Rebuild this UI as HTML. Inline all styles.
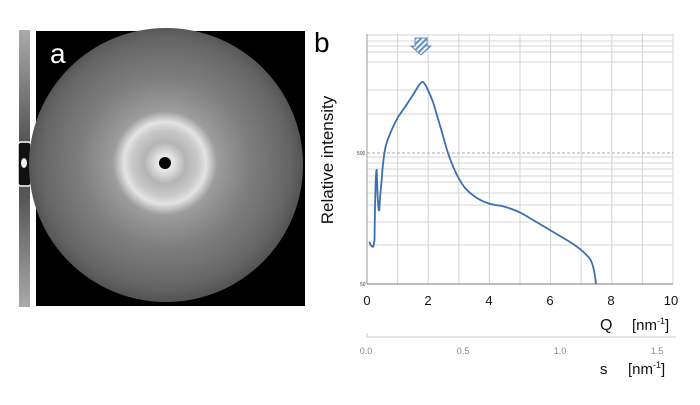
<!DOCTYPE html>
<html><head><meta charset="utf-8"><style>
body{margin:0;background:#fff;width:700px;height:400px;overflow:hidden;font-family:"Liberation Sans",sans-serif}
</style></head><body>
<svg width="700" height="400" viewBox="0 0 700 400" xmlns="http://www.w3.org/2000/svg" font-family="Liberation Sans, sans-serif">
<defs>
<radialGradient id="g" cx="165" cy="163" r="137" gradientUnits="userSpaceOnUse">
<stop offset="0" stop-color="#fff"/>
<stop offset="0.07" stop-color="#e0e0e0"/>
<stop offset="0.15" stop-color="#b4b4b4"/>
<stop offset="0.24" stop-color="#c8c8c8"/>
<stop offset="0.3" stop-color="#e4e4e4"/>
<stop offset="0.38" stop-color="#9c9c9c"/>
<stop offset="0.6" stop-color="#808080"/>
<stop offset="0.9" stop-color="#666"/>
<stop offset="1" stop-color="#555"/>
</radialGradient>
<linearGradient id="st" x1="0" y1="0" x2="0" y2="1">
<stop offset="0" stop-color="#aaa"/><stop offset="0.4" stop-color="#555"/><stop offset="0.6" stop-color="#555"/><stop offset="1" stop-color="#aaa"/>
</linearGradient>
<pattern id="h" width="4" height="4" patternUnits="userSpaceOnUse" patternTransform="rotate(45)"><rect width="2" height="4" fill="#5b8fc9"/></pattern>
</defs>
<rect x="19" y="30" width="11" height="277" fill="url(#st)"/>
<rect x="18" y="142" width="13" height="44" rx="3" fill="#111" stroke="#fff" stroke-width="1.5"/>
<ellipse cx="24" cy="163" rx="3" ry="5" fill="#eee"/>
<rect x="36" y="31" width="269" height="275" fill="#000"/>
<circle cx="166" cy="165" r="137" fill="url(#g)"/>
<circle cx="165" cy="163" r="6" fill="#000"/>
<text x="50" y="63" font-size="28" fill="#fff">a</text>
<text x="314" y="52" font-size="28" fill="#000">b</text>
<g stroke="#d4d4d4" stroke-width="1">
<line x1="367" y1="35" x2="673" y2="35"/><line x1="367" y1="41" x2="673" y2="41"/><line x1="367" y1="46" x2="673" y2="46"/><line x1="367" y1="52" x2="673" y2="52"/><line x1="367" y1="62" x2="673" y2="62"/><line x1="367" y1="90" x2="673" y2="90"/><line x1="367" y1="114" x2="673" y2="114"/>
<line x1="367" y1="157" x2="673" y2="157"/><line x1="367" y1="163" x2="673" y2="163"/><line x1="367" y1="169" x2="673" y2="169"/><line x1="367" y1="176" x2="673" y2="176"/><line x1="367" y1="182" x2="673" y2="182"/><line x1="367" y1="193" x2="673" y2="193"/><line x1="367" y1="205" x2="673" y2="205"/><line x1="367" y1="222" x2="673" y2="222"/><line x1="367" y1="245" x2="673" y2="245"/>
<line x1="397.6" y1="34" x2="397.6" y2="284"/><line x1="428.2" y1="34" x2="428.2" y2="284"/><line x1="458.8" y1="34" x2="458.8" y2="284"/><line x1="489.4" y1="34" x2="489.4" y2="284"/><line x1="520" y1="34" x2="520" y2="284"/><line x1="550.6" y1="34" x2="550.6" y2="284"/><line x1="581.2" y1="34" x2="581.2" y2="284"/><line x1="611.8" y1="34" x2="611.8" y2="284"/><line x1="642.4" y1="34" x2="642.4" y2="284"/><line x1="673" y1="34" x2="673" y2="284"/>
</g>
<line x1="367" y1="153" x2="673" y2="153" stroke="#aaa" stroke-dasharray="3,2"/>
<line x1="367" y1="34" x2="367" y2="284" stroke="#999"/>
<line x1="367" y1="284" x2="673" y2="284" stroke="#777"/>
<text x="357" y="155" font-size="5" fill="#444">500</text>
<text x="360" y="286" font-size="5" fill="#444">50</text>
<path fill="none" stroke="#3c6fb0" stroke-width="1.8" stroke-linejoin="round" d="M369.3,241.7 Q371,247 373.3,246.7 L374.5,240 Q375.5,168 376.7,170 Q378,215 379.3,210 Q380,195 381.7,180 Q383,158 386,145 Q390,132 398,117 Q410,100 416,90 Q421,81 423,82 Q426,84 433,102 Q440,125 447,150 Q455,175 465,188 Q478,202 495,205 Q507,206 523,214 Q545,227 570,242 Q583,250 590,259 Q594,265 596,284"/>
<path d="M415,38 H427 V46 H431 L421,55 L411,46 H415 Z" fill="url(#h)" stroke="#5b8fc9" stroke-width="1"/>
<text transform="translate(333,160) rotate(-90)" text-anchor="middle" font-size="17" fill="#111">Relative intensity</text>
<g font-size="13" fill="#111" text-anchor="middle">
<text x="367" y="305">0</text><text x="428" y="305">2</text><text x="489" y="305">4</text><text x="550" y="305">6</text><text x="611" y="305">8</text><text x="671" y="305">10</text>
</g>
<text x="600" y="330" font-size="16" fill="#111">Q</text>
<text x="632" y="330" font-size="15" fill="#111">[nm<tspan font-size="9" dy="-6">-1</tspan><tspan dy="6">]</tspan></text>
<line x1="367" y1="337" x2="676" y2="337" stroke="#ccc"/>
<line x1="367" y1="333" x2="367" y2="337" stroke="#ccc"/>
<g font-size="9" fill="#888" text-anchor="middle">
<text x="366" y="354">0.0</text><text x="463" y="354">0.5</text><text x="560" y="354">1.0</text><text x="657" y="354">1.5</text>
</g>
<text x="600" y="374" font-size="15" fill="#111">s</text>
<text x="628" y="374" font-size="15" fill="#111">[nm<tspan font-size="9" dy="-6">-1</tspan><tspan dy="6">]</tspan></text>
</svg>
</body></html>
